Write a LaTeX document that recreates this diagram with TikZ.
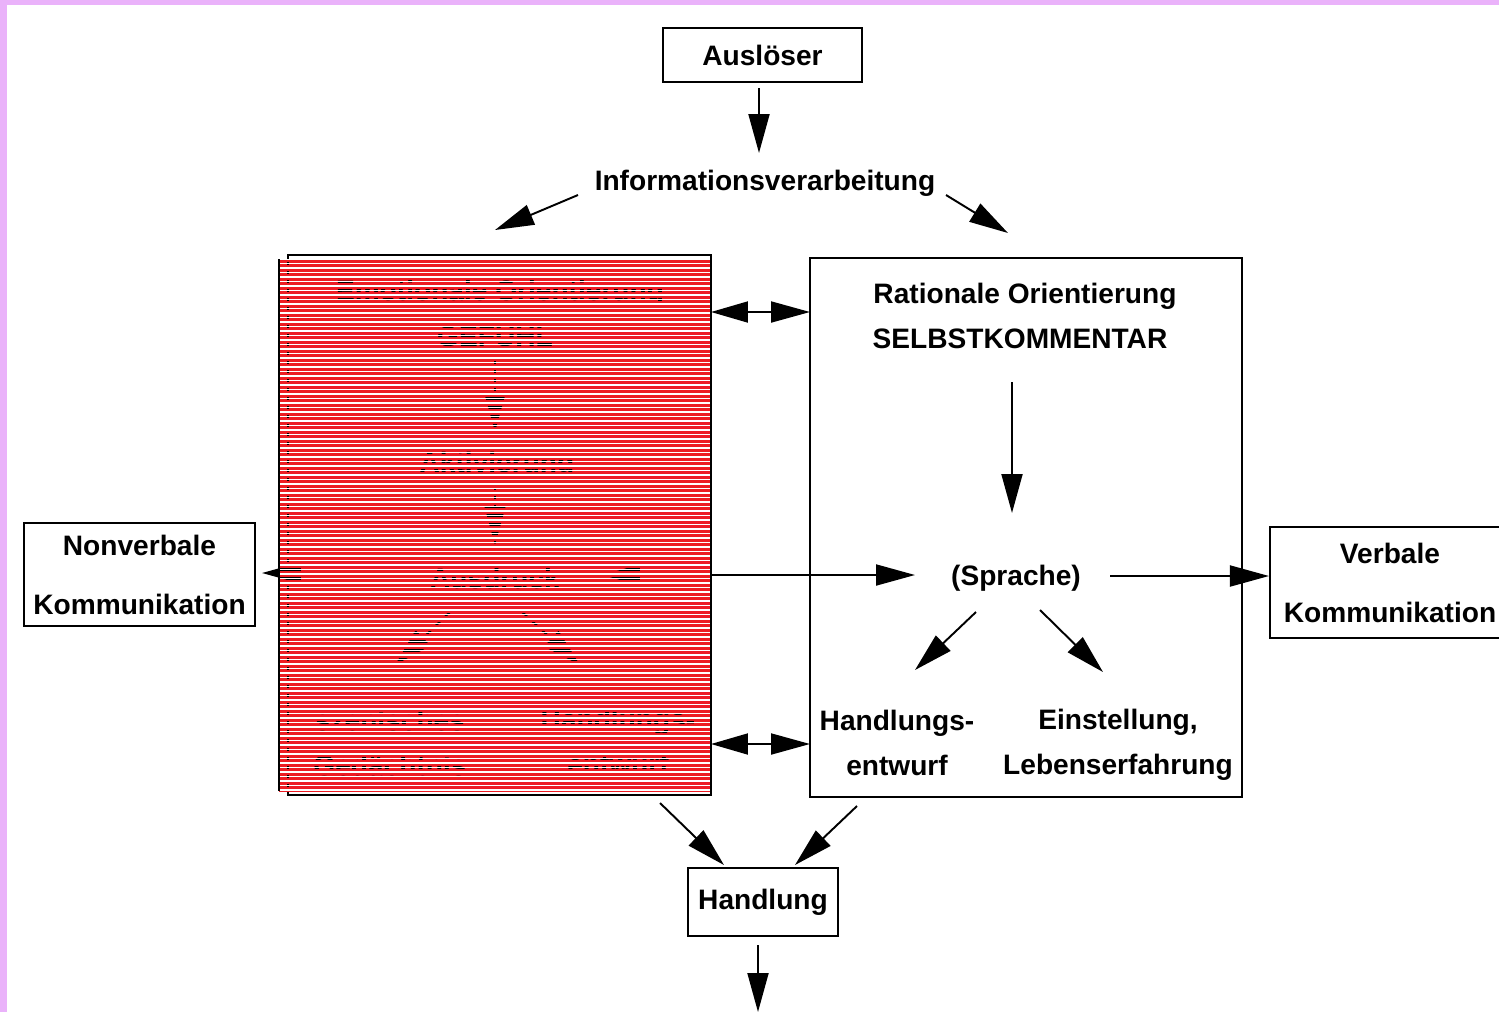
\documentclass[tikz,border=0pt]{standalone}
\usepackage{fontspec}
\setmainfont{Liberation Sans}
\usetikzlibrary{arrows.meta,calc}
\definecolor{pinkb}{RGB}{234,178,250}
\definecolor{redf}{RGB}{237,28,36}
\begin{document}
\begin{tikzpicture}[x=0.02cm,y=-0.02cm,
  lbl/.style={font=\bfseries\fontsize{16}{33.6}\selectfont, inner sep=0pt, align=center},
  lbls/.style={font=\bfseries\fontsize{16}{25.8}\selectfont, inner sep=0pt, align=center},
  box/.style={draw, line width=1.2pt, inner sep=0pt},
  arr/.style={line width=1.1pt, -{Triangle[length=0.78cm,width=0.42cm]}},
  darr/.style={line width=1.1pt, {Triangle[length=0.74cm,width=0.42cm]}-{Triangle[length=0.78cm,width=0.42cm]}}]
\useasboundingbox (0,0) rectangle (1499,1012);
\clip (0,0) rectangle (1499,1012);
\fill[white] (0,0) rectangle (1499,1012);
\fill[pinkb] (0,0) rectangle (1499,5);
\fill[pinkb] (0,0) rectangle (7,1012);

% top
\node[box, minimum width=3.98cm, minimum height=1.08cm, lbl] (ausl) at (762.5,55) {Auslöser};
\node[lbl] (info) at (765,183) {Informationsverarbeitung};
\coordinate (a1s) at (759,88); \coordinate (a1e) at (759,153);
\draw[arr] (a1s) -- (a1e);
\coordinate (i1s) at (578,195); \coordinate (i1e) at (495,230);
\coordinate (i2s) at (946,195); \coordinate (i2e) at (1008,233);
\draw[arr] (i1s) -- (i1e);
\draw[arr] (i2s) -- (i2e);

% red (emotional) box
\draw[line width=1.2pt] (288,255) rectangle (711,795);
\fill[redf] (279,259) rectangle (711,791);
\node[lbl] (emo) at (500,293) {Emotionale Orientierung};
\node[lbl] (gef) at (495,335) {GEFÜHL};
\node[lbl] (akt) at (497,465) {Aktivierung};
\node[lbl] (ausd) at (495,578) {Ausdruck};
\node[lbls] (szen) at (390,743) {szenisches\\Gedächtnis};
\node[lbls] (hent) at (618,742) {Handlungs-\\entwurf};
\draw[line width=1.2pt] (288,255) -- (288,795);
\coordinate (r1s) at (495,360); \coordinate (r1e) at (495,432);
\coordinate (r2s) at (495,488); \coordinate (r2e) at (495,545);
\coordinate (r3s) at (452,610); \coordinate (r3e) at (395,665);
\coordinate (r4s) at (520,610); \coordinate (r4e) at (580,665);
\draw[arr] (r1s) -- (r1e);
\draw[arr] (r2s) -- (r2e);
\draw[arr] (r3s) -- (r3e);
\draw[arr] (r4s) -- (r4e);
\coordinate (nvs) at (430,573); \coordinate (nve) at (262,573);
\draw[arr] (nvs) -- (nve);
\coordinate (sps) at (603,575); \coordinate (spe) at (915,575);
\draw[darr] (sps) -- (spe);
% stripes
\begin{scope}
\clip (279,259) rectangle (711,791);
\foreach \k in {0,...,118} {
  \pgfmathsetmacro{\yy}{259+4.5*\k}
  \draw[white, line width=0.7pt] (279,\yy) -- (711,\yy);
  \draw[redf, line width=1.25pt] (279,\yy+2.2) -- (711,\yy+2.2);
}
\end{scope}
\draw[line width=1.2pt] (279,259) -- (279,791);
\draw[line width=1.2pt] (711,255) -- (711,795);

% between boxes
\coordinate (d1s) at (711,312); \coordinate (d1e) at (810,312);
\coordinate (d2s) at (711,744); \coordinate (d2e) at (810,744);
\draw[darr] (d1s) -- (d1e);
\draw[darr] (d2s) -- (d2e);

% rational box
\node[box, minimum width=8.64cm, minimum height=10.78cm] (rat) at (1026,527.5) {};
\node[lbl] (ratt) at (1025,296) {Rationale Orientierung};
\node[lbl] (selb) at (1020,339) {SELBSTKOMMENTAR};
\node[lbl] (spr) at (1016,578) {(Sprache)};
\node[lbls] (hand2) at (897,743) {Handlungs-\\entwurf};
\node[lbls] (einst) at (1118,745) {Einstellung,\\Lebenserfahrung};
\coordinate (s1s) at (1012,382); \coordinate (s1e) at (1012,513);
\draw[arr] (s1s) -- (s1e);
\coordinate (s2s) at (976,612); \coordinate (s2e) at (915,670);
\coordinate (s3s) at (1040,610); \coordinate (s3e) at (1103,672);
\draw[arr] (s2s) -- (s2e);
\draw[arr] (s3s) -- (s3e);

% side boxes
\node[box, minimum width=4.62cm, minimum height=2.06cm, lbl] (nonv) at (139.5,574.5) {Nonverbale\\Kommunikation};
\node[box, minimum width=4.8cm, minimum height=2.22cm, lbl] (verb) at (1390,582.5) {Verbale\\Kommunikation};
\coordinate (vs) at (1110,576);
\draw[arr] (vs) -- (verb.west |- vs);

% bottom
\node[box, minimum width=3.0cm, minimum height=1.36cm, lbl] (hdl) at (763,902) {Handlung};
\coordinate (b1s) at (660,803); \coordinate (b1e) at (724,865);
\coordinate (b2s) at (857,806); \coordinate (b2e) at (795,865);
\draw[arr] (b1s) -- (b1e);
\draw[arr] (b2s) -- (b2e);
\coordinate (b3s) at (758,945); \coordinate (b3e) at (758,1012);
\draw[arr] (b3s) -- (b3e);
\end{tikzpicture}
\end{document}
